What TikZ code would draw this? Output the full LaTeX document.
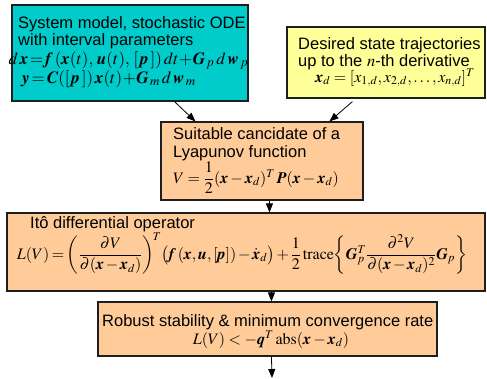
\documentclass[tikz,border=0pt]{standalone}
\usepackage{amsmath}
\usepackage{mathptmx}
\usepackage[no-math]{fontspec}
\setmainfont{Liberation Sans}
\DeclareMathAlphabet{\vb}{OT1}{ptm}{b}{it}
\DeclareMathSizes{17}{17}{13}{10}
\usetikzlibrary{arrows.meta,calc}
\definecolor{cyanfill}{RGB}{0,204,204}
\definecolor{yelfill}{RGB}{255,255,153}
\definecolor{orfill}{RGB}{255,204,153}
\definecolor{edge}{RGB}{30,30,30}
\tikzset{
  box/.style={draw=edge, line width=1.1pt, inner sep=0pt, minimum width=#1},
  txt/.style={anchor=base west, inner sep=0pt, font=\fontsize{16.5}{19}\selectfont},
  eq/.style={anchor=base, inner sep=0pt, font=\fontsize{16}{19}\selectfont},
  eqbig/.style={anchor=base, inner sep=0pt, font=\fontsize{17}{20}\selectfont},
  arr/.style={draw=black, line width=0.8pt, -{Triangle[length=9pt,width=7pt]}}
}
\begin{document}
\begin{tikzpicture}[x=1pt,y=-1pt]
\useasboundingbox (0,0) rectangle (487,378);
% boxes
\node[box=236pt, fill=cyanfill, minimum height=96pt] (b1) at (130,53) {};
\node[box=198pt, fill=yelfill, minimum height=71pt] (b2) at (386,62.5) {};
\node[box=202pt, fill=orfill, minimum height=78pt] (b3) at (262,161) {};
\node[box=478pt, fill=orfill, minimum height=78pt] (b4) at (246,252) {};
\node[box=339pt, fill=orfill, minimum height=54pt] (b5) at (267.5,329) {};
% box 1 text
\node[txt] (t1a) at (18,28) {System model, stochastic ODE};
\node[txt] (t1b) at (18,45) {with interval parameters};
\node[eqbig] (e1a) at (128.5,64) {$d\,\vb{x}\!=\!\vb{f}\,(\vb{x}(t),\,\vb{u}(t),\,[\,\vb{p}\,])\,dt\!+\!\vb{G}_{\,p}\,d\,\vb{w}_{\,p}$};
\node[eqbig] (e1b) at (109,83) {$\vb{y}\!=\!\vb{C}([\,\vb{p}\,])\,\vb{x}(t)\!+\!\vb{G}_{\,m}\,d\,\vb{w}_{\,m}$};
% box 2 text
\node[txt] (t2a) at (298,49) {Desired state trajectories};
\node[txt] (t2b) at (298,66) {up to the $n$-th derivative};
\node[eq] (e2) at (395,82) {$\vb{x}_d=[x_{1,d},x_{2,d},\ldots,x_{n,d}]^T$};
% box 3 text
\node[txt] (t3a) at (173,139) {Suitable cancidate of a};
\node[txt] (t3b) at (173,157) {Lyapunov function};
\node[eq] (e3) at (256,183) {$V=\dfrac{1}{2}(\vb{x}-\vb{x}_d)^T\,\vb{P}(\vb{x}-\vb{x}_d)$};
% box 4 text
\node[txt] (t4) at (30,228) {Itô differential operator};
\node[eq] (e4) at (242,259) {$\medmuskip=2mu\thickmuskip=3mu L(V)=\biggl(\dfrac{\partial V}{\partial(\vb{x}-\vb{x}_d)}\biggr)^{\!T}\bigl(\vb{f}\,(\vb{x},\vb{u},[\vb{p}])-\dot{\vb{x}}_d\bigr)+\dfrac{1}{2}\,\mathrm{trace}\biggl\{\vb{G}_p^T\dfrac{\partial^2 V}{\partial(\vb{x}-\vb{x}_d)^2}\vb{G}_p\biggr\}$};
% box 5 text
\node[txt] (t5) at (102,326) {Robust stability \& minimum convergence rate};
\node[eq] (e5) at (271,344) {$L(V)<-\vb{q}^T\,\mathrm{abs}(\vb{x}-\vb{x}_d)$};
% arrows
\coordinate (endpt) at (272,378);
\draw[arr] ([xshift=163pt]b1.south west) -- ([xshift=35pt]b3.north west);
\draw[arr] ([xshift=66pt,yshift=-3pt]b2.south west) -- ([xshift=169pt]b3.north west);
\draw[arr] ([xshift=109pt]b3.south west) -- ([xshift=263pt]b4.north west);
\draw[arr] ([xshift=265pt]b4.south west) -- ([xshift=174pt]b5.north west);
\draw[arr] ([xshift=174pt]b5.south west) -- (endpt);
\end{tikzpicture}
\end{document}
